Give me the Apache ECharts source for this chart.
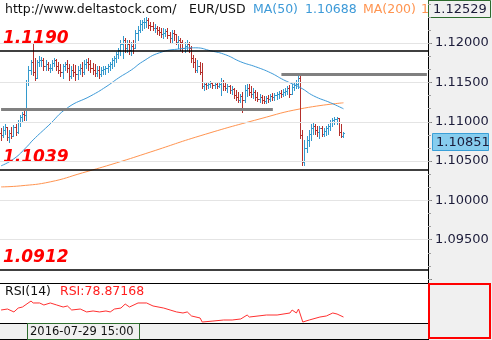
<!DOCTYPE html>
<html><head><meta charset="utf-8">
<script src="https://cdn.jsdelivr.net/npm/echarts@6/dist/echarts.min.js"></script>
<style>html,body{margin:0;padding:0;background:#fff}#c{width:492px;height:340px}</style>
</head><body><div id="c"></div>
<script>
// ---- data ----
// [open, high, low, close]
const ohlc = [
[1.10859,1.10923,1.10770,1.10834],[1.10834,1.10948,1.10808,1.10897],[1.10897,1.10974,1.10846,1.10936],[1.10936,1.10936,1.10770,1.10808],
[1.10808,1.10897,1.10745,1.10859],[1.10859,1.10936,1.10796,1.10821],[1.10821,1.10961,1.10821,1.10936],[1.10936,1.10974,1.10834,1.10872],
[1.10872,1.11025,1.10859,1.10999],[1.10999,1.11088,1.10948,1.11063],[1.11063,1.11126,1.10999,1.11101],[1.11101,1.11139,1.11025,1.11088],
[1.11088,1.11533,1.11025,1.11508],[1.11508,1.11711,1.11470,1.11661],[1.11661,1.11788,1.11610,1.11762],[1.11762,1.12004,1.11597,1.11635],
[1.11635,1.11813,1.11533,1.11559],[1.11559,1.11788,1.11559,1.11762],[1.11762,1.11839,1.11711,1.11788],[1.11788,1.11826,1.11711,1.11788],
[1.11788,1.11813,1.11661,1.11711],[1.11711,1.11788,1.11661,1.11737],[1.11737,1.11762,1.11661,1.11686],[1.11686,1.11737,1.11635,1.11686],
[1.11686,1.11788,1.11661,1.11750],[1.11750,1.11813,1.11711,1.11788],[1.11788,1.11801,1.11661,1.11711],[1.11711,1.11762,1.11622,1.11661],
[1.11661,1.11737,1.11584,1.11635],[1.11635,1.11737,1.11559,1.11711],[1.11711,1.11762,1.11661,1.11737],[1.11737,1.11788,1.11635,1.11686],
[1.11686,1.11737,1.11533,1.11584],[1.11584,1.11711,1.11559,1.11661],[1.11661,1.11737,1.11584,1.11635],[1.11635,1.11724,1.11533,1.11610],
[1.11610,1.11711,1.11546,1.11661],[1.11661,1.11737,1.11610,1.11686],[1.11686,1.11762,1.11584,1.11635],[1.11635,1.11788,1.11610,1.11737],
[1.11737,1.11801,1.11686,1.11762],[1.11762,1.11813,1.11661,1.11737],[1.11737,1.11788,1.11635,1.11686],[1.11686,1.11750,1.11610,1.11661],
[1.11661,1.11737,1.11584,1.11622],[1.11622,1.11711,1.11584,1.11661],[1.11661,1.11711,1.11559,1.11610],[1.11610,1.11699,1.11584,1.11661],
[1.11661,1.11711,1.11610,1.11673],[1.11673,1.11711,1.11610,1.11686],[1.11686,1.11737,1.11635,1.11711],[1.11711,1.11762,1.11661,1.11737],
[1.11737,1.11813,1.11686,1.11788],[1.11788,1.11839,1.11711,1.11813],[1.11813,1.11890,1.11762,1.11864],[1.11864,1.11940,1.11813,1.11915],
[1.11915,1.12042,1.11851,1.11991],[1.11991,1.12093,1.11813,1.12042],[1.12042,1.12068,1.11890,1.11940],[1.11940,1.12042,1.11890,1.11991],
[1.11991,1.12042,1.11864,1.11915],[1.11915,1.12017,1.11851,1.11966],[1.11966,1.12042,1.11877,1.11940],[1.11940,1.12169,1.11940,1.12131],
[1.12131,1.12220,1.12042,1.12169],[1.12169,1.12297,1.12144,1.12246],[1.12246,1.12297,1.12169,1.12271],[1.12271,1.12322,1.12195,1.12271],
[1.12271,1.12335,1.12208,1.12297],[1.12297,1.12322,1.12195,1.12233],[1.12233,1.12271,1.12169,1.12220],[1.12220,1.12271,1.12169,1.12195],
[1.12195,1.12246,1.12144,1.12195],[1.12195,1.12220,1.12119,1.12169],[1.12169,1.12208,1.12106,1.12144],[1.12144,1.12195,1.12080,1.12119],
[1.12119,1.12195,1.12068,1.12131],[1.12131,1.12182,1.12093,1.12157],[1.12157,1.12195,1.12068,1.12106],[1.12106,1.12144,1.12017,1.12068],
[1.12068,1.12169,1.12017,1.12131],[1.12131,1.12169,1.12042,1.12119],[1.12119,1.12119,1.11991,1.12017],[1.12017,1.12093,1.11940,1.12042],
[1.12042,1.12068,1.11915,1.12017],[1.12017,1.12042,1.11890,1.11940],[1.11940,1.12017,1.11890,1.11966],[1.11966,1.12042,1.11915,1.11991],
[1.11991,1.12017,1.11890,1.11940],[1.11940,1.11966,1.11762,1.11813],[1.11813,1.11851,1.11699,1.11762],[1.11762,1.11813,1.11635,1.11661],
[1.11661,1.11788,1.11635,1.11711],[1.11711,1.11762,1.11610,1.11635],[1.11635,1.11750,1.11432,1.11457],[1.11457,1.11495,1.11406,1.11482],
[1.11482,1.11495,1.11419,1.11470],[1.11470,1.11508,1.11432,1.11482],[1.11482,1.11521,1.11444,1.11495],[1.11495,1.11508,1.11432,1.11470],
[1.11470,1.11508,1.11432,1.11482],[1.11482,1.11495,1.11432,1.11457],[1.11457,1.11508,1.11444,1.11482],[1.11482,1.11559,1.11343,1.11508],
[1.11508,1.11533,1.11406,1.11457],[1.11457,1.11508,1.11406,1.11432],[1.11432,1.11482,1.11381,1.11457],[1.11457,1.11470,1.11368,1.11406],
[1.11406,1.11457,1.11355,1.11419],[1.11419,1.11432,1.11305,1.11343],[1.11343,1.11406,1.11279,1.11317],[1.11317,1.11381,1.11254,1.11279],
[1.11279,1.11355,1.11254,1.11330],[1.11330,1.11381,1.11126,1.11279],[1.11279,1.11470,1.11254,1.11406],[1.11406,1.11482,1.11330,1.11432],
[1.11432,1.11482,1.11343,1.11381],[1.11381,1.11457,1.11317,1.11355],[1.11355,1.11432,1.11305,1.11381],[1.11381,1.11406,1.11279,1.11317],
[1.11317,1.11381,1.11266,1.11292],[1.11292,1.11355,1.11254,1.11317],[1.11317,1.11343,1.11241,1.11279],[1.11279,1.11330,1.11241,1.11266],
[1.11266,1.11330,1.11241,1.11305],[1.11305,1.11343,1.11254,1.11292],[1.11292,1.11355,1.11266,1.11330],[1.11330,1.11368,1.11279,1.11317],
[1.11317,1.11368,1.11279,1.11343],[1.11343,1.11381,1.11292,1.11355],[1.11355,1.11393,1.11305,1.11368],[1.11368,1.11406,1.11317,1.11355],
[1.11355,1.11419,1.11330,1.11381],[1.11381,1.11432,1.11343,1.11393],[1.11393,1.11457,1.11355,1.11432],[1.11432,1.11470,1.11317,1.11355],
[1.11355,1.11482,1.11355,1.11444],[1.11444,1.11508,1.11406,1.11470],[1.11470,1.11533,1.11432,1.11482],[1.11482,1.11610,1.11432,1.11559],
[1.11559,1.11610,1.10796,1.10834],[1.10834,1.10897,1.10452,1.10490],[1.10490,1.10770,1.10452,1.10669],[1.10669,1.10821,1.10617,1.10770],
[1.10770,1.10897,1.10694,1.10846],[1.10846,1.10974,1.10770,1.10923],[1.10923,1.10999,1.10846,1.10948],[1.10948,1.10974,1.10846,1.10897],
[1.10897,1.10948,1.10821,1.10872],[1.10872,1.10948,1.10796,1.10923],[1.10923,1.10948,1.10821,1.10846],[1.10846,1.10923,1.10821,1.10885],
[1.10885,1.10948,1.10834,1.10923],[1.10923,1.10974,1.10846,1.10948],[1.10948,1.11025,1.10897,1.10999],[1.10999,1.11050,1.10948,1.11025],
[1.11025,1.11063,1.10974,1.11037],[1.11037,1.11063,1.10974,1.11050],[1.11050,1.11050,1.10834,1.10872],[1.10872,1.10974,1.10808,1.10821],
[1.10821,1.10872,1.10808,1.10851]
];
// [bar index, value]
const ma50 = [[0,1.10440],[6,1.10529],[12,1.10681],[15,1.10770],[22,1.10948],[31,1.11177],[42,1.11330],[49,1.11444],[55,1.11559],
  [61,1.11661],[66,1.11762],[74,1.11877],[84,1.11928],[91,1.11940],[98,1.11902],[105,1.11851],[112,1.11762],[119,1.11699],
  [126,1.11622],[132,1.11533],[140,1.11432],[146,1.11330],[154,1.11241],[160,1.11165]];
const ma200 = [[0,1.10172],[9,1.10185],[23,1.10236],[38,1.10350],[54,1.10478],[70,1.10617],[93,1.10821],[121,1.11037],[140,1.11165],[160,1.11241]];
const rsi = [[0,40],[3,41.5],[6,37],[8,43],[10,44.6],[14,53.8],[15,50.8],[18,50.8],[20,47.7],[23,50.8],[26,47.7],[29,44.6],[31,46.2],
  [33,40],[37,41.5],[40,37],[43,38.5],[46,37],[49,38.5],[51,37],[53,41.5],[56,43],[58,49.2],[60,44.6],[64,50.8],[68,50.8],[71,46.2],
  [76,43],[79,40],[82,37],[85,35.4],[87,37],[89,30.8],[93,27.7],[94,21.5],[99,23],[104,24.6],[108,24.6],[112,26.2],[115,32.3],
  [116,29.2],[124,32.3],[129,32.3],[135,35.4],[136,40],[138,35.4],[139,41.5],[141,21.5],[144,24.6],[149,29.2],[152,30.8],
  [155,35.4],[157,33.8],[160,29.2]];
const priceLabels = [1.095, 1.100, 1.105, 1.110, 1.115, 1.120];
const blackLevels = [1.1190, 1.1039, 1.0912];
const levelTexts = ['1.1190', '1.1039', '1.0912'];
const graySegments = [[0, 127, 1.1116], [131, 199, 1.1160]]; // [from bar, to bar, price]
const slotCount = 200;
const axisMax = 1.12529, axisMin = 1.0895;
const lastPrice = 1.10851;
const dateText = '2016-07-29 15:00';
const headerUrl = 'http://www.deltastock.com/';
const symbolText = 'EUR/USD';
const ma50Text = ['MA(50)', '1.10688'];
const ma200Text = ['MA(200)', '1.10330'];
const rsiText = ['RSI(14)', 'RSI:78.87168'];

// ---- chart ----
const categories = Array.from({length: slotCount}, (_, i) => String(i));
const minorTicks = [];
for (let k = 0; k <= 21; k++) minorTicks.push(+(1.09 + k * 0.005 / 3).toFixed(5));
const majorTicks = [1.09].concat(priceLabels);

const FONT = '"DejaVu Sans", sans-serif';
const UP = '#3399cc', DOWN = '#b5302c';
const BLUE = '#3d9ad8', ORANGE = '#ff9450';

function renderOHLC(params, api) {
  const i = api.value(0);
  const o = api.value(1), h = api.value(2), l = api.value(3), c = api.value(4);
  const pO = api.coord([i, o]), pH = api.coord([i, h]), pL = api.coord([i, l]), pC = api.coord([i, c]);
  const x = Math.floor(pO[0]);
  const color = c >= o ? UP : DOWN;
  const yh = Math.round(pH[1]), yl = Math.round(pL[1]);
  return {type: 'group', children: [
    {type: 'rect', shape: {x: x, y: yh, width: 1, height: Math.max(1, yl - yh + 1)}, style: {fill: color}},
    {type: 'rect', shape: {x: x - 1, y: Math.round(pO[1]), width: 1, height: 1}, style: {fill: color}},
    {type: 'rect', shape: {x: x + 1, y: Math.round(pC[1]), width: 1, height: 1}, style: {fill: color}}
  ]};
}

const chart = echarts.init(document.getElementById('c'), null, {renderer: 'canvas'});

const markData = [];
priceLabels.forEach(v => markData.push({yAxis: v, lineStyle: {color: '#e4e4e4', width: 1, type: 'solid'}}));
graySegments.forEach(s => markData.push([{coord: [s[0], s[2]], lineStyle: {color: '#808080', width: 3, type: 'solid'}}, {coord: [s[1], s[2]]}]));
blackLevels.forEach(v => markData.push({yAxis: v, lineStyle: {color: '#000', width: 1.5, type: 'solid'}}));

const option = {
  animation: false,
  backgroundColor: '#fff',
  grid: [
    {left: 0, top: 1.5, width: 428, height: 281.5},
    {left: 0, top: 284, width: 428, height: 39}
  ],
  xAxis: [
    {type: 'category', gridIndex: 0, data: categories, boundaryGap: true, show: false},
    {type: 'category', gridIndex: 1, data: categories, boundaryGap: true, show: false}
  ],
  yAxis: [
    {type: 'value', gridIndex: 0, position: 'right', min: axisMin, max: axisMax, z: 10,
     axisLine: {show: false},
     axisTick: {show: true, customValues: majorTicks, length: 4, lineStyle: {color: '#808080'}},
     axisLabel: {show: true, customValues: priceLabels, margin: 7, color: '#1c1c3a', fontFamily: FONT, fontSize: 13,
       formatter: v => v.toFixed(5)},
     splitLine: {show: false}},
    {type: 'value', gridIndex: 0, position: 'right', min: axisMin, max: axisMax, z: 10,
     axisLine: {show: false},
     axisTick: {show: true, customValues: minorTicks, length: 3, lineStyle: {color: '#a0a0a0'}},
     axisLabel: {show: false}, splitLine: {show: false}},
    {type: 'value', gridIndex: 1, min: 20, max: 80, show: false}
  ],
  series: [
    {type: 'line', name: 'MA200', xAxisIndex: 0, yAxisIndex: 0, data: ma200, showSymbol: false, smooth: true, z: 1,
     lineStyle: {color: ORANGE, width: 1}, silent: true,
     markLine: {silent: true, precision: 5, symbol: ['none', 'none'], label: {show: false}, data: markData, animation: false}},
    {type: 'custom', name: 'EURUSD', xAxisIndex: 0, yAxisIndex: 0, z: 2, clip: true,
     data: ohlc.map((d, i) => [i, d[0], d[1], d[2], d[3]]),
     encode: {x: 0, y: [1, 2, 3, 4]}, renderItem: renderOHLC, silent: true},
    {type: 'line', name: 'MA50', xAxisIndex: 0, yAxisIndex: 0, data: ma50, showSymbol: false, smooth: true, z: 3,
     lineStyle: {color: BLUE, width: 1}, silent: true},
    {type: 'line', name: 'RSI', xAxisIndex: 1, yAxisIndex: 2, data: rsi, showSymbol: false, z: 3,
     lineStyle: {color: '#ff3030', width: 1}, silent: true}
  ]
};
chart.setOption(option);

const txt = (x, y, text, fill, size, extra) => Object.assign({type: 'text', z: 3, silent: true,
  style: {x: x, y: y, text: text, fill: fill, font: size + 'px ' + FONT, verticalAlign: 'middle'}}, extra || {});

const g = [];
// header
g.push(txt(5, 10, headerUrl, '#111', 12.5));
g.push(txt(189, 10, symbolText, '#111', 12.5));
g.push(txt(253, 10, ma50Text[0], BLUE, 12.5));
g.push(txt(305, 10, ma50Text[1], BLUE, 12.5));
g.push(txt(363, 10, ma200Text[0], ORANGE, 12.5));
g.push(txt(421, 10, ma200Text[1], ORANGE, 12.5));
// RSI header
g.push(txt(5, 291.5, rsiText[0], '#111', 12.5));
g.push(txt(60, 291.5, rsiText[1], '#ff2020', 12.5));
// panels
g.push({type: 'rect', z: 5, silent: true, shape: {x: 428, y: 0, width: 64, height: 340}, style: {fill: '#f0f0f0'}});
g.push({type: 'rect', z: 5, silent: true, shape: {x: 0, y: 323, width: 428, height: 17}, style: {fill: '#f0f0f0'}});
g.push({type: 'line', z: 6, silent: true, shape: {x1: 428.5, y1: 0, x2: 428.5, y2: 340}, style: {stroke: '#000', lineWidth: 1}});
[283.5, 323.5, 339.5].forEach(y => g.push({type: 'line', z: 6, silent: true, shape: {x1: 0, y1: y, x2: 428, y2: y}, style: {stroke: '#000', lineWidth: 1}}));
g.push({type: 'rect', z: 6, silent: true, shape: {x: 429, y: 284, width: 61, height: 54}, style: {fill: '#f0f0f0', stroke: '#ff0000', lineWidth: 2}});
// top value box
g.push({type: 'rect', z: 7, silent: true, shape: {x: 428.5, y: 0.5, width: 62, height: 17}, style: {fill: '#f0f0f0', stroke: '#2d6b2d', lineWidth: 1}});
g.push(txt(433, 9.5, axisMax.toFixed(5), '#1c1c3a', 13, {z: 8}));
// date box
g.push({type: 'rect', z: 7, silent: true, shape: {x: 27.5, y: 323.5, width: 112, height: 16}, style: {fill: '#f0f0f0', stroke: '#2d6b2d', lineWidth: 1}});
g.push(txt(30, 332, dateText, '#111', 11.5, {z: 8}));
// current price box
const yLast = Math.round(chart.convertToPixel({yAxisIndex: 0}, lastPrice));
g.push({type: 'rect', z: 7, silent: true, shape: {x: 432.5, y: yLast + 0.5, width: 56, height: 17}, style: {fill: '#87cdee', stroke: '#3aa0d8', lineWidth: 1}});
g.push(txt(436, yLast + 9.5, lastPrice.toFixed(5), '#1c1c3a', 13, {z: 8}));
// level labels
blackLevels.forEach((v, k) => {
  const y = chart.convertToPixel({yAxisIndex: 0}, v);
  g.push({type: 'text', z: 4, silent: true, style: {x: 3, y: y - 12, text: levelTexts[k], fill: '#ff0000',
    font: 'italic bold 17px ' + FONT, verticalAlign: 'middle'}});
});
chart.setOption({graphic: {elements: g}});
</script></body></html>
